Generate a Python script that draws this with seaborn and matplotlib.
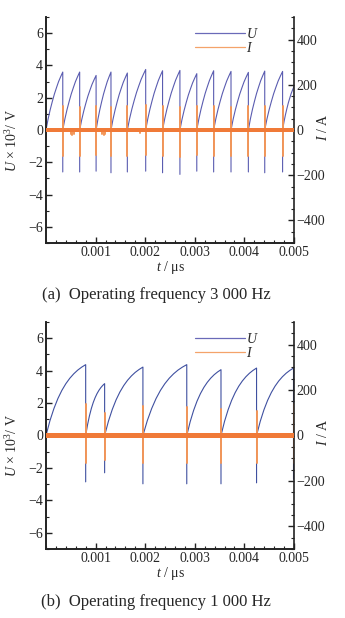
import numpy as np
import pandas as pd
import matplotlib
matplotlib.use("Agg")
import matplotlib.pyplot as plt
import seaborn as sns
from matplotlib.ticker import MultipleLocator, FixedLocator
from matplotlib.lines import Line2D

# ---------------- data ----------------
# Panel (a): 3 000 Hz
a_discharge_t = [0.000338, 0.000679, 0.00101, 0.00131, 0.00164, 0.00201, 0.00235,
                 0.00270, 0.00304, 0.00338, 0.00373, 0.00408, 0.00441, 0.00477]
a_peak_U = [3.59, 3.59, 3.38, 3.59, 3.53, 3.75, 3.67, 3.69, 3.49, 3.67, 3.63, 3.57, 3.65, 3.63]
a_min_U = [-2.6, -2.6, -2.55, -2.65, -2.6, -2.55, -2.65, -2.75, -2.55, -2.6, -2.6, -2.6, -2.65, -2.6]
a_end_U = 2.7            # value reached at t = 0.005 (partial last cycle)
a_I_up = [105, 100, 105, 100, 105, 110, 105, 100, 105, 105, 100, 105, 105, 105]
a_I_down = [-115, -115, -110, -115, -115, -110, -115, -120, -110, -115, -115, -115, -115, -115]
a_blip_t = [0.00050, 0.00053, 0.00056, 0.00113, 0.00116, 0.00119, 0.00190]
a_blip_I = [-18, -22, -16, -18, -24, -16, -12]
# normalised charging shape (fraction of cycle, fraction of peak), panel a
a_shape_f = [0, 0.125, 0.25, 0.375, 0.5, 0.625, 0.75, 0.875, 1.0]
a_shape_v = [0, 0.19, 0.35, 0.49, 0.62, 0.73, 0.835, 0.92, 1.0]

# Panel (b): 1 000 Hz
b_discharge_t = [0.000800, 0.001182, 0.001954, 0.002838, 0.003528, 0.004245, 0.00499]
b_peak_U = [4.37, 3.2, 4.22, 4.37, 4.06, 4.16, 4.16]
b_min_U = [-2.86, -2.3, -2.98, -2.98, -2.98, -2.92, -2.7]
b_I_up = [140, 99, 128, 124, 117, 110, 140]
b_I_down = [-122, -110, -122, -122, -122, -122, -122]
b_shape_f = [0, 0.1, 0.2, 0.3, 0.4, 0.5, 0.6, 0.7, 0.8, 0.9, 1.0]
b_shape_v = [0, 0.21, 0.381, 0.522, 0.637, 0.731, 0.808, 0.871, 0.923, 0.965, 1.0]

I_noise = 10     # half-width of the current noise band (A)
t_end = 0.005

captions = ["(a)  Operating frequency 3 000 Hz", "(b)  Operating frequency 1 000 Hz"]

U_COLORS = ["#5a5cb0", "#3f50a0"]
I_COLOR = "#f07a38"
I_SPIKE = "#f39658"


def build_U(dis_t, peaks, mins, sf, sv, end_val=None):
    """Each charging cycle is its own unit: rise from 0, then the drop to the minimum."""
    ts, us, unit = [], [], []
    start = 0.0
    for k, (t, p, m) in enumerate(zip(dis_t, peaks, mins)):
        for f, v in zip(sf, sv):
            ts.append(start + f * (t - start))
            us.append(v * p)
            unit.append(k)
        ts.append(t)
        us.append(m)
        unit.append(k)
        start = t
    if end_val is not None and start < t_end:
        k = len(dis_t)
        for f, v in zip(sf, sv):
            ts.append(start + f * (t_end - start))
            us.append(v * end_val)
            unit.append(k)
    return pd.DataFrame({"t": ts, "U": us, "unit": unit})


def build_I(dis_t, ups, downs, blip_t=(), blip_i=()):
    """One separate segment per current spike."""
    ts, iv, unit = [], [], []
    k = 1
    for t, u, d in zip(dis_t, ups, downs):
        ts += [t, t]
        iv += [u, d]
        unit += [k, k]
        k += 1
    for t, bl in zip(blip_t, blip_i):
        ts += [t, t]
        iv += [0.0, bl]
        unit += [k, k]
        k += 1
    return pd.DataFrame({"t": ts, "I": iv, "unit": unit})


dfs_U = [build_U(a_discharge_t, a_peak_U, a_min_U, a_shape_f, a_shape_v, a_end_U),
         build_U(b_discharge_t, b_peak_U, b_min_U, b_shape_f, b_shape_v)]
dfs_I = [build_I(a_discharge_t, a_I_up, a_I_down, a_blip_t, a_blip_I),
         build_I(b_discharge_t, b_I_up, b_I_down)]

# ---------------- style ----------------
sns.set_style("ticks")
plt.rcParams["font.family"] = ["Liberation Serif", "DejaVu Serif"]
plt.rcParams["mathtext.fontset"] = "custom"
plt.rcParams["mathtext.it"] = "Liberation Serif:italic"
plt.rcParams["mathtext.rm"] = "Liberation Serif"
plt.rcParams["axes.edgecolor"] = "#222222"
plt.rcParams["axes.linewidth"] = 1.2

W, H = 345, 618
fig = plt.figure(figsize=(W / 100, H / 100), dpi=100)

axes_px = [(46, 17, 294, 243), (46, 322, 294, 549)]
cap_y = [295, 602]
xlab_y = [267, 573]

for k in range(2):
    l, t, r, b = axes_px[k]
    ax = fig.add_axes([l / W, 1 - b / H, (r - l) / W, (b - t) / H])
    ax.set_zorder(1)
    ax.patch.set_visible(False)
    ax2 = ax.twinx()
    ax2.set_zorder(2)

    sns.lineplot(data=dfs_U[k], x="t", y="U", units="unit", sort=False,
                 estimator=None, color=U_COLORS[k], lw=0.8, ax=ax, legend=False)
    ax2.fill_between([0, t_end], [-I_noise, -I_noise], [I_noise, I_noise],
                     color=I_COLOR, lw=0, zorder=3)
    sns.lineplot(data=dfs_I[k], x="t", y="I", units="unit", sort=False,
                 estimator=None, color=I_SPIKE, lw=1.4, ax=ax2, legend=False,
                 zorder=2)

    ax.set_xlim(0, t_end)
    ax.set_ylim(-7, 7)
    ax2.set_ylim(-500, 500)

    ax.xaxis.set_major_locator(FixedLocator([0.001, 0.002, 0.003, 0.004, 0.005]))
    ax.xaxis.set_minor_locator(MultipleLocator(0.0002))
    ax.set_xticklabels(["0.001", "0.002", "0.003", "0.004", "0.005"])
    ax.yaxis.set_minor_locator(MultipleLocator(1))
    ax.set_yticks([-6, -4, -2, 0, 2, 4, 6])
    ax.set_yticklabels(["\u22126", "\u22124", "\u22122", "0", "2", "4", "6"])
    ax2.yaxis.set_major_locator(FixedLocator([-400, -200, 0, 200, 400]))
    ax2.yaxis.set_minor_locator(MultipleLocator(50))
    ax2.set_yticklabels(["\u2212400", "\u2212200", "0", "200", "400"])

    for a in (ax, ax2):
        a.tick_params(which="major", direction="in", length=4, width=1.0,
                      labelsize=10, pad=2, color="#222222")
        a.tick_params(which="minor", direction="in", length=2.2, width=0.8,
                      color="#222222")
        a.spines["top"].set_visible(False)
    ax.tick_params(axis="y", which="both", right=False)
    ax.spines["right"].set_visible(False)

    ax.set_xlabel("")
    ax.set_ylabel("")
    ax2.set_ylabel("")

    fig.text(170 / W, 1 - xlab_y[k] / H, "$t$ / \u03bcs", ha="center", va="center",
             fontsize=10)
    fig.text(12 / W, 1 - ((t + b) / 2 + 10) / H, "$U$ \u00d7 10$^3$/ V", ha="center",
             va="center", rotation=90, fontsize=10)
    fig.text(323 / W, 1 - ((t + b) / 2 - 3) / H, "$I$ / A", ha="center", va="center",
             rotation=90, fontsize=10)
    fig.text(156 / W, 1 - cap_y[k] / H, captions[k], ha="center", va="center",
             fontsize=12)

    handles = [Line2D([], [], color="#6a6ab8", lw=0.9),
               Line2D([], [], color="#f4a36a", lw=0.9)]
    ax2.legend(handles, ["$U$", "$I$"], loc="upper left",
               bbox_to_anchor=(0.6, 0.955), frameon=False, fontsize=10,
               handlelength=3.6, handletextpad=0.1, labelspacing=0.0,
               borderpad=0, borderaxespad=0)

fig.savefig("out.png", dpi=100, facecolor="white")
